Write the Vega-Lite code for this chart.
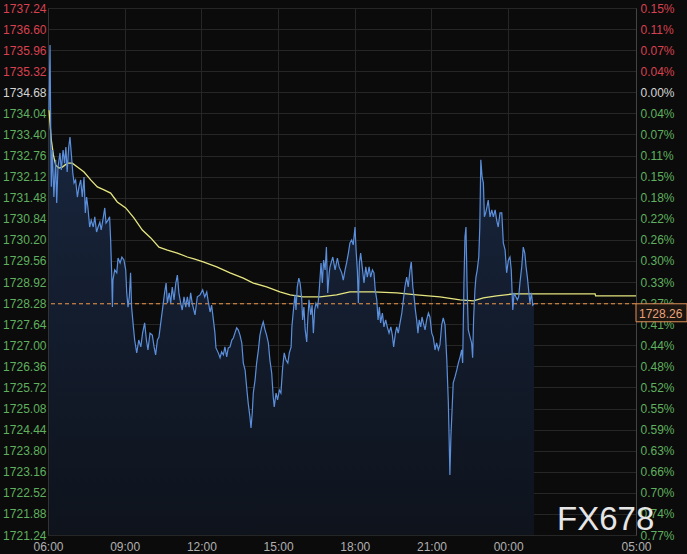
{
  "$schema": "https://vega.github.io/schema/vega-lite/v6.json",
  "width": 588,
  "height": 527,
  "autosize": {"type": "none"},
  "padding": {"left": 48, "top": 8, "right": 51, "bottom": 19},
  "background": "#0b0b0b",
  "config": {"font": "Liberation Sans", "view": {"stroke": null}},
  "datasets": {
    "price": [
      {"h":0.04,"p":1734.14},{"h":0.08,"p":1736.12},{"h":0.11,"p":1733.23},{"h":0.13,"p":1731.81},{"h":0.17,"p":1732.93},{"h":0.23,"p":1731.50},{"h":0.30,"p":1732.63},{"h":0.34,"p":1731.32},{"h":0.39,"p":1732.41},{"h":0.47,"p":1732.84},{"h":0.52,"p":1732.32},{"h":0.59,"p":1732.93},{"h":0.65,"p":1732.53},{"h":0.70,"p":1733.02},{"h":0.75,"p":1732.26},{"h":0.81,"p":1733.02},{"h":0.86,"p":1733.32},{"h":0.91,"p":1732.84},{"h":0.97,"p":1732.23},{"h":1.02,"p":1731.93},{"h":1.08,"p":1732.02},{"h":1.15,"p":1731.50},{"h":1.21,"p":1731.81},{"h":1.28,"p":1732.02},{"h":1.34,"p":1731.50},{"h":1.41,"p":1732.11},{"h":1.46,"p":1731.02},{"h":1.51,"p":1731.50},{"h":1.56,"p":1731.20},{"h":1.63,"p":1730.59},{"h":1.69,"p":1730.80},{"h":1.77,"p":1730.59},{"h":1.83,"p":1730.90},{"h":1.90,"p":1730.44},{"h":1.96,"p":1730.59},{"h":2.03,"p":1730.74},{"h":2.08,"p":1730.50},{"h":2.16,"p":1730.87},{"h":2.22,"p":1731.17},{"h":2.27,"p":1730.71},{"h":2.35,"p":1730.80},{"h":2.41,"p":1730.90},{"h":2.45,"p":1730.20},{"h":2.49,"p":1729.20},{"h":2.52,"p":1728.16},{"h":2.54,"p":1728.98},{"h":2.61,"p":1729.29},{"h":2.69,"p":1729.20},{"h":2.74,"p":1729.65},{"h":2.82,"p":1729.50},{"h":2.89,"p":1729.68},{"h":2.97,"p":1729.59},{"h":3.04,"p":1729.29},{"h":3.08,"p":1728.59},{"h":3.13,"p":1728.16},{"h":3.18,"p":1728.47},{"h":3.23,"p":1729.20},{"h":3.27,"p":1728.16},{"h":3.34,"p":1727.56},{"h":3.39,"p":1727.16},{"h":3.47,"p":1726.77},{"h":3.55,"p":1727.16},{"h":3.63,"p":1726.95},{"h":3.70,"p":1727.37},{"h":3.78,"p":1727.68},{"h":3.85,"p":1727.16},{"h":3.91,"p":1726.86},{"h":3.99,"p":1727.37},{"h":4.08,"p":1727.31},{"h":4.15,"p":1726.95},{"h":4.21,"p":1726.71},{"h":4.28,"p":1727.16},{"h":4.34,"p":1727.25},{"h":4.41,"p":1727.68},{"h":4.49,"p":1728.16},{"h":4.56,"p":1728.59},{"h":4.62,"p":1728.89},{"h":4.67,"p":1728.28},{"h":4.74,"p":1728.59},{"h":4.80,"p":1728.28},{"h":4.86,"p":1728.77},{"h":4.93,"p":1728.38},{"h":5.00,"p":1728.89},{"h":5.06,"p":1729.13},{"h":5.12,"p":1728.59},{"h":5.19,"p":1728.28},{"h":5.25,"p":1728.07},{"h":5.32,"p":1728.47},{"h":5.39,"p":1728.16},{"h":5.45,"p":1728.47},{"h":5.52,"p":1728.16},{"h":5.58,"p":1728.59},{"h":5.64,"p":1728.28},{"h":5.75,"p":1727.92},{"h":5.84,"p":1728.47},{"h":5.95,"p":1728.53},{"h":6.05,"p":1728.68},{"h":6.13,"p":1728.47},{"h":6.21,"p":1728.62},{"h":6.27,"p":1728.32},{"h":6.34,"p":1728.01},{"h":6.40,"p":1728.22},{"h":6.47,"p":1727.77},{"h":6.53,"p":1727.37},{"h":6.57,"p":1726.92},{"h":6.66,"p":1726.77},{"h":6.73,"p":1726.62},{"h":6.79,"p":1726.80},{"h":6.86,"p":1726.71},{"h":6.92,"p":1726.95},{"h":6.99,"p":1726.65},{"h":7.05,"p":1726.92},{"h":7.12,"p":1726.95},{"h":7.19,"p":1727.16},{"h":7.25,"p":1727.22},{"h":7.31,"p":1727.37},{"h":7.38,"p":1727.53},{"h":7.44,"p":1727.47},{"h":7.51,"p":1727.31},{"h":7.58,"p":1727.07},{"h":7.64,"p":1726.46},{"h":7.71,"p":1726.25},{"h":7.77,"p":1725.73},{"h":7.83,"p":1725.25},{"h":7.90,"p":1724.82},{"h":7.94,"p":1724.49},{"h":7.99,"p":1724.95},{"h":8.03,"p":1725.55},{"h":8.10,"p":1725.95},{"h":8.16,"p":1726.46},{"h":8.23,"p":1726.86},{"h":8.29,"p":1727.31},{"h":8.36,"p":1727.56},{"h":8.42,"p":1727.71},{"h":8.49,"p":1727.47},{"h":8.55,"p":1727.31},{"h":8.62,"p":1727.07},{"h":8.68,"p":1726.55},{"h":8.75,"p":1726.16},{"h":8.81,"p":1725.43},{"h":8.85,"p":1725.13},{"h":8.92,"p":1725.55},{"h":8.98,"p":1725.34},{"h":9.05,"p":1725.64},{"h":9.11,"p":1725.55},{"h":9.18,"p":1726.34},{"h":9.24,"p":1726.77},{"h":9.31,"p":1726.55},{"h":9.38,"p":1726.46},{"h":9.44,"p":1726.77},{"h":9.51,"p":1726.95},{"h":9.54,"p":1727.56},{"h":9.60,"p":1728.07},{"h":9.66,"p":1728.53},{"h":9.70,"p":1728.07},{"h":9.75,"p":1728.77},{"h":9.81,"p":1729.04},{"h":9.86,"p":1728.89},{"h":9.92,"p":1728.47},{"h":9.96,"p":1727.77},{"h":10.01,"p":1728.16},{"h":10.06,"p":1727.47},{"h":10.12,"p":1727.10},{"h":10.16,"p":1727.77},{"h":10.21,"p":1728.38},{"h":10.28,"p":1727.92},{"h":10.33,"p":1728.22},{"h":10.38,"p":1727.37},{"h":10.43,"p":1728.07},{"h":10.48,"p":1728.28},{"h":10.55,"p":1728.16},{"h":10.61,"p":1728.68},{"h":10.68,"p":1729.50},{"h":10.73,"p":1728.89},{"h":10.78,"p":1729.59},{"h":10.84,"p":1729.29},{"h":10.89,"p":1729.98},{"h":10.94,"p":1728.59},{"h":11.00,"p":1729.20},{"h":11.03,"p":1729.38},{"h":11.14,"p":1729.68},{"h":11.23,"p":1729.29},{"h":11.32,"p":1729.65},{"h":11.39,"p":1729.38},{"h":11.49,"p":1729.20},{"h":11.55,"p":1728.98},{"h":11.62,"p":1729.29},{"h":11.68,"p":1729.50},{"h":11.75,"p":1729.80},{"h":11.81,"p":1730.11},{"h":11.88,"p":1730.20},{"h":11.94,"p":1730.05},{"h":12.01,"p":1730.59},{"h":12.05,"p":1729.89},{"h":12.10,"p":1729.29},{"h":12.14,"p":1728.28},{"h":12.18,"p":1729.50},{"h":12.23,"p":1729.80},{"h":12.29,"p":1729.38},{"h":12.36,"p":1728.89},{"h":12.43,"p":1729.38},{"h":12.49,"p":1729.07},{"h":12.56,"p":1729.38},{"h":12.62,"p":1729.07},{"h":12.69,"p":1729.29},{"h":12.75,"p":1729.20},{"h":12.80,"p":1728.68},{"h":12.86,"p":1728.38},{"h":12.91,"p":1727.77},{"h":12.96,"p":1728.16},{"h":13.01,"p":1727.68},{"h":13.08,"p":1727.98},{"h":13.14,"p":1727.56},{"h":13.21,"p":1727.77},{"h":13.27,"p":1727.56},{"h":13.34,"p":1727.37},{"h":13.41,"p":1727.56},{"h":13.47,"p":1727.31},{"h":13.52,"p":1726.95},{"h":13.59,"p":1727.37},{"h":13.64,"p":1727.56},{"h":13.70,"p":1727.37},{"h":13.77,"p":1727.68},{"h":13.84,"p":1727.98},{"h":13.90,"p":1728.38},{"h":13.96,"p":1728.77},{"h":14.03,"p":1729.07},{"h":14.09,"p":1728.77},{"h":14.16,"p":1729.29},{"h":14.21,"p":1729.53},{"h":14.27,"p":1728.77},{"h":14.32,"p":1728.47},{"h":14.37,"p":1728.07},{"h":14.42,"p":1727.77},{"h":14.47,"p":1727.37},{"h":14.52,"p":1727.77},{"h":14.58,"p":1727.56},{"h":14.63,"p":1727.86},{"h":14.68,"p":1727.68},{"h":14.75,"p":1727.47},{"h":14.81,"p":1727.77},{"h":14.88,"p":1727.98},{"h":14.94,"p":1727.86},{"h":15.01,"p":1727.37},{"h":15.07,"p":1727.25},{"h":15.14,"p":1726.86},{"h":15.20,"p":1727.07},{"h":15.27,"p":1726.86},{"h":15.33,"p":1727.01},{"h":15.40,"p":1727.62},{"h":15.46,"p":1727.83},{"h":15.53,"p":1727.62},{"h":15.60,"p":1726.55},{"h":15.66,"p":1725.25},{"h":15.70,"p":1723.82},{"h":15.72,"p":1723.06},{"h":15.76,"p":1724.22},{"h":15.80,"p":1724.95},{"h":15.85,"p":1725.86},{"h":15.92,"p":1726.04},{"h":15.99,"p":1726.25},{"h":16.05,"p":1726.46},{"h":16.12,"p":1726.65},{"h":16.18,"p":1726.86},{"h":16.22,"p":1726.46},{"h":16.27,"p":1728.89},{"h":16.31,"p":1730.29},{"h":16.35,"p":1730.59},{"h":16.39,"p":1728.89},{"h":16.44,"p":1727.47},{"h":16.51,"p":1727.25},{"h":16.57,"p":1727.07},{"h":16.61,"p":1726.62},{"h":16.65,"p":1727.86},{"h":16.70,"p":1728.68},{"h":16.74,"p":1729.07},{"h":16.79,"p":1729.29},{"h":16.85,"p":1729.68},{"h":16.89,"p":1730.59},{"h":16.93,"p":1732.63},{"h":16.98,"p":1732.11},{"h":17.03,"p":1731.93},{"h":17.07,"p":1730.90},{"h":17.12,"p":1731.02},{"h":17.17,"p":1731.20},{"h":17.22,"p":1731.41},{"h":17.29,"p":1730.90},{"h":17.36,"p":1731.11},{"h":17.42,"p":1730.90},{"h":17.49,"p":1731.11},{"h":17.55,"p":1730.80},{"h":17.61,"p":1730.59},{"h":17.68,"p":1731.02},{"h":17.75,"p":1731.02},{"h":17.81,"p":1730.11},{"h":17.88,"p":1729.89},{"h":17.94,"p":1729.20},{"h":18.01,"p":1729.59},{"h":18.07,"p":1729.68},{"h":18.12,"p":1729.29},{"h":18.18,"p":1728.07},{"h":18.23,"p":1728.59},{"h":18.30,"p":1728.47},{"h":18.36,"p":1728.38},{"h":18.41,"p":1728.47},{"h":18.46,"p":1728.89},{"h":18.53,"p":1729.38},{"h":18.59,"p":1729.98},{"h":18.65,"p":1729.80},{"h":18.70,"p":1729.38},{"h":18.75,"p":1729.07},{"h":18.80,"p":1728.68},{"h":18.85,"p":1728.28},{"h":18.91,"p":1728.59},{"h":18.96,"p":1728.22},{"h":19.01,"p":1728.26}
    ],
    "avg": [
      {"h":0.04,"p":1734.14},{"h":0.13,"p":1733.23},{"h":0.21,"p":1732.78},{"h":0.30,"p":1732.47},{"h":0.43,"p":1732.38},{"h":0.56,"p":1732.41},{"h":0.76,"p":1732.53},{"h":0.95,"p":1732.53},{"h":1.15,"p":1732.41},{"h":1.41,"p":1732.26},{"h":1.67,"p":1732.02},{"h":1.93,"p":1731.81},{"h":2.19,"p":1731.72},{"h":2.45,"p":1731.62},{"h":2.71,"p":1731.35},{"h":3.04,"p":1731.17},{"h":3.36,"p":1730.87},{"h":3.69,"p":1730.50},{"h":4.02,"p":1730.26},{"h":4.34,"p":1729.98},{"h":4.67,"p":1729.89},{"h":5.06,"p":1729.80},{"h":5.45,"p":1729.68},{"h":5.71,"p":1729.62},{"h":6.07,"p":1729.53},{"h":6.60,"p":1729.38},{"h":7.12,"p":1729.20},{"h":7.64,"p":1729.04},{"h":8.03,"p":1728.89},{"h":8.55,"p":1728.77},{"h":9.07,"p":1728.62},{"h":9.47,"p":1728.53},{"h":9.98,"p":1728.47},{"h":10.64,"p":1728.47},{"h":11.29,"p":1728.53},{"h":11.81,"p":1728.62},{"h":12.72,"p":1728.62},{"h":13.64,"p":1728.59},{"h":14.42,"p":1728.53},{"h":15.33,"p":1728.47},{"h":16.12,"p":1728.38},{"h":16.64,"p":1728.35},{"h":17.03,"p":1728.44},{"h":17.55,"p":1728.50},{"h":18.20,"p":1728.56},{"h":18.98,"p":1728.56},{"h":21.40,"p":1728.56},{"h":21.42,"p":1728.50},{"h":23.00,"p":1728.50}
    ],
    "last": [{"h": 23, "p": 1728.26, "label": "1728.26"}],
    "brand": [{"h": 19.91, "p": 1721.39, "label": "FX678"}]
  },
  "resolve": {"scale": {"y": "shared"}, "axis": {"y": "independent"}},
  "layer": [
    {
      "data": {"name": "price"},
      "mark": {"type": "area", "interpolate": "linear",
        "color": {"gradient": "linear", "x1": 0, "y1": 0, "x2": 0, "y2": 1,
          "stops": [{"offset": 0, "color": "#1a2944"}, {"offset": 1, "color": "#0e131c"}]}},
      "encoding": {
        "x": {"field": "h", "type": "quantitative",
          "scale": {"domain": [0, 23], "nice": false, "zero": false},
          "axis": {"title": null, "values": [0, 3, 6, 9, 12, 15, 18, 23],
            "labelExpr": "(((datum.value + 6) % 24) < 10 ? '0' : '') + ((datum.value + 6) % 24) + ':00'",
            "grid": true, "gridColor": "#262626", "ticks": false, "domain": false,
            "labelColor": "#b0b0b0", "labelFontSize": 12, "labelPadding": 6, "labelFlush": false, "labelOverlap": false}},
        "y": {"field": "p", "type": "quantitative",
          "scale": {"domain": [1721.24, 1737.24], "nice": false, "zero": false},
          "axis": {"orient": "left", "title": null,
            "values": [1721.24,1721.88,1722.52,1723.16,1723.80,1724.44,1725.08,1725.72,1726.36,1727.00,1727.64,1728.28,1728.92,1729.56,1730.20,1730.84,1731.48,1732.12,1732.76,1733.40,1734.04,1734.68,1735.32,1735.96,1736.60,1737.24],
            "format": ".2f", "grid": true, "gridColor": "#262626", "ticks": false,
            "domain": true, "domainColor": "#333333", "labelFontSize": 12, "labelPadding": 2,
            "labelFlush": false, "labelOverlap": false, "labelBaseline": "middle",
            "labelColor": {"condition": [{"test": "datum.value > 1734.7", "value": "#d8414f"}, {"test": "datum.value > 1734.6", "value": "#d4d4d4"}], "value": "#5fb05f"}}},
        "y2": {"datum": 1721.24}
      }
    },
    {
      "data": {"name": "last"},
      "mark": {"type": "rule", "stroke": "#f29a4a", "color": "#f29a4a", "strokeDash": [4, 3], "strokeWidth": 1, "opacity": 1},
      "encoding": {
        "y": {"field": "p", "type": "quantitative",
          "scale": {"domain": [1721.24, 1737.24], "nice": false, "zero": false}, "axis": null}
      }
    },
    {
      "data": {"name": "avg"},
      "mark": {"type": "line", "color": "#e6e680", "strokeWidth": 1.3},
      "encoding": {
        "x": {"field": "h", "type": "quantitative",
          "scale": {"domain": [0, 23], "nice": false, "zero": false},
          "axis": {"title": null, "values": [0, 3, 6, 9, 12, 15, 18, 23],
            "labelExpr": "(((datum.value + 6) % 24) < 10 ? '0' : '') + ((datum.value + 6) % 24) + ':00'",
            "grid": true, "gridColor": "#262626", "ticks": false, "domain": false,
            "labelColor": "#b0b0b0", "labelFontSize": 12, "labelPadding": 6, "labelFlush": false, "labelOverlap": false}},
        "y": {"field": "p", "type": "quantitative",
          "scale": {"domain": [1721.24, 1737.24], "nice": false, "zero": false},
          "axis": {"orient": "right", "title": null,
            "values": [1721.24,1721.88,1722.52,1723.16,1723.80,1724.44,1725.08,1725.72,1726.36,1727.00,1727.64,1728.28,1728.92,1729.56,1730.20,1730.84,1731.48,1732.12,1732.76,1733.40,1734.04,1734.68,1735.32,1735.96,1736.60,1737.24],
            "labelExpr": "format(abs(datum.value - 1734.68) / 1734.68 * 100, '.2f') + '%'",
            "grid": false, "ticks": false, "domain": true, "domainColor": "#444444",
            "labelFontSize": 12, "labelPadding": 4, "labelFlush": false, "labelOverlap": false, "labelBaseline": "middle",
            "labelColor": {"condition": [{"test": "datum.value > 1734.7", "value": "#d8414f"}, {"test": "datum.value > 1734.6", "value": "#d4d4d4"}], "value": "#5fb05f"}}}
      }
    },
    {
      "data": {"name": "price"},
      "mark": {"type": "line", "color": "#5b8fdc", "strokeWidth": 1.2},
      "encoding": {
        "x": {"field": "h", "type": "quantitative",
          "scale": {"domain": [0, 23], "nice": false, "zero": false},
          "axis": {"title": null, "values": [0, 3, 6, 9, 12, 15, 18, 23],
            "labelExpr": "(((datum.value + 6) % 24) < 10 ? '0' : '') + ((datum.value + 6) % 24) + ':00'",
            "grid": true, "gridColor": "#262626", "ticks": false, "domain": false,
            "labelColor": "#b0b0b0", "labelFontSize": 12, "labelPadding": 6, "labelFlush": false, "labelOverlap": false}},
        "y": {"field": "p", "type": "quantitative", "scale": {"domain": [1721.24, 1737.24], "nice": false, "zero": false}, "axis": null}
      }
    },
    {
      "data": {"name": "last"},
      "mark": {"type": "point", "shape": "M0,0H5.1V1.8H0Z", "size": 400, "filled": true,
        "fill": "#1c1510", "stroke": "#e0915a", "strokeWidth": 1, "opacity": 1},
      "encoding": {
        "x": {"field": "h", "type": "quantitative",
          "scale": {"domain": [0, 23], "nice": false, "zero": false},
          "axis": {"title": null, "values": [0, 3, 6, 9, 12, 15, 18, 23],
            "labelExpr": "(((datum.value + 6) % 24) < 10 ? '0' : '') + ((datum.value + 6) % 24) + ':00'",
            "grid": true, "gridColor": "#262626", "ticks": false, "domain": false,
            "labelColor": "#b0b0b0", "labelFontSize": 12, "labelPadding": 6, "labelFlush": false, "labelOverlap": false}},
        "y": {"field": "p", "type": "quantitative", "scale": {"domain": [1721.24, 1737.24], "nice": false, "zero": false}, "axis": null}
      }
    },
    {
      "data": {"name": "last"},
      "mark": {"type": "text", "align": "left", "baseline": "middle", "dx": 3, "dy": 10,
        "fontSize": 12, "color": "#e8a27a"},
      "encoding": {
        "x": {"field": "h", "type": "quantitative",
          "scale": {"domain": [0, 23], "nice": false, "zero": false},
          "axis": {"title": null, "values": [0, 3, 6, 9, 12, 15, 18, 23],
            "labelExpr": "(((datum.value + 6) % 24) < 10 ? '0' : '') + ((datum.value + 6) % 24) + ':00'",
            "grid": true, "gridColor": "#262626", "ticks": false, "domain": false,
            "labelColor": "#b0b0b0", "labelFontSize": 12, "labelPadding": 6, "labelFlush": false, "labelOverlap": false}},
        "y": {"field": "p", "type": "quantitative", "scale": {"domain": [1721.24, 1737.24], "nice": false, "zero": false}, "axis": null},
        "text": {"field": "label"}
      }
    },
    {
      "data": {"name": "brand"},
      "mark": {"type": "text", "align": "left", "baseline": "alphabetic",
        "fontSize": 33, "color": "#e6e6e6", "font": "Liberation Sans"},
      "encoding": {
        "x": {"field": "h", "type": "quantitative",
          "scale": {"domain": [0, 23], "nice": false, "zero": false},
          "axis": {"title": null, "values": [0, 3, 6, 9, 12, 15, 18, 23],
            "labelExpr": "(((datum.value + 6) % 24) < 10 ? '0' : '') + ((datum.value + 6) % 24) + ':00'",
            "grid": true, "gridColor": "#262626", "ticks": false, "domain": false,
            "labelColor": "#b0b0b0", "labelFontSize": 12, "labelPadding": 6, "labelFlush": false, "labelOverlap": false}},
        "y": {"field": "p", "type": "quantitative", "scale": {"domain": [1721.24, 1737.24], "nice": false, "zero": false}, "axis": null},
        "text": {"field": "label"}
      }
    }
  ]
}
